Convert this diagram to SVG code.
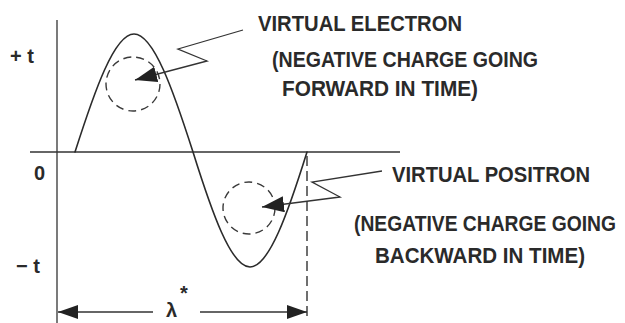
<svg xmlns="http://www.w3.org/2000/svg" width="625" height="323" viewBox="0 0 625 323">
<defs>
<style>
.ln{fill:none;stroke:#2b2b2b;stroke-width:1.6;stroke-linecap:round;stroke-linejoin:round}
.thin{fill:none;stroke:#333;stroke-width:1.3}
.dash{fill:none;stroke:#3a3a3a;stroke-width:1.4;stroke-dasharray:8 5}
.vdash{fill:none;stroke:#333;stroke-width:1.4;stroke-dasharray:10 5}
.lbl{font-family:"Liberation Sans",Arial,sans-serif;font-weight:bold;font-size:19px;fill:#2a2a2a}
.ax{font-family:"Liberation Sans",Arial,sans-serif;font-weight:bold;font-size:20px;fill:#2a2a2a}
</style>
<marker id="ah" markerUnits="userSpaceOnUse" markerWidth="24" markerHeight="18" refX="22" refY="8" orient="auto">
<path d="M0,0 L22,8 L0,16 Z" fill="#222"/>
</marker>
<marker id="dh" markerUnits="userSpaceOnUse" markerWidth="22" markerHeight="18" refX="20" refY="8" orient="auto">
<path d="M0,1 L20,8 L0,15 Z" fill="#222"/>
</marker>
</defs>
<rect width="625" height="323" fill="#fff"/>
<g id="axes">
<line class="thin" x1="57" y1="20" x2="57" y2="323"/>
<line class="thin" x1="30" y1="152" x2="400" y2="152"/>
<line class="vdash" x1="307" y1="156" x2="307" y2="320"/>
</g>
<g id="wave">
<path class="ln" d="M75,152 C94.67,90.7 114.33,34 134,34 C153.67,34 173.33,90.7 193,152 C212,212.7 231,267 250,267 C269,267 288,212.7 307,152"/>
</g>
<g id="electron">
<circle class="dash" cx="133" cy="84" r="27"/>
</g>
<g id="positron">
<circle class="dash" cx="249" cy="208" r="26"/>
</g>
<g id="connectors">
<path class="thin" d="M243,30 L178,49 L207,61 L135,80" marker-end="url(#ah)"/>
<path class="thin" d="M382,171 L312,182 L340,197 L262,207" marker-end="url(#ah)"/>
<line class="thin" x1="153" y1="312" x2="58" y2="312" marker-end="url(#dh)"/>
<line class="thin" x1="200" y1="312" x2="307" y2="312" marker-end="url(#dh)"/>
</g>
<g id="labels">
<text class="ax" x="10" y="63">+ t</text>
<text class="ax" x="34" y="180">0</text>
<text class="ax" x="16" y="273">− t</text>
<text class="ax" x="166" y="317" font-size="22">λ</text>
<text class="ax" x="180" y="300" font-size="20">*</text>
<text class="lbl" transform="translate(258,31) scale(1,1.2)" textLength="204" lengthAdjust="spacingAndGlyphs">VIRTUAL ELECTRON</text>
<text class="lbl" transform="translate(272,67) scale(1,1.2)" textLength="266" lengthAdjust="spacingAndGlyphs">(NEGATIVE CHARGE GOING</text>
<text class="lbl" transform="translate(282,96) scale(1,1.2)" textLength="196" lengthAdjust="spacingAndGlyphs">FORWARD IN TIME)</text>
<text class="lbl" transform="translate(392,182) scale(1,1.2)" textLength="198" lengthAdjust="spacingAndGlyphs">VIRTUAL POSITRON</text>
<text class="lbl" transform="translate(354,231) scale(1,1.2)" textLength="262" lengthAdjust="spacingAndGlyphs">(NEGATIVE CHARGE GOING</text>
<text class="lbl" transform="translate(375,263) scale(1,1.2)" textLength="210" lengthAdjust="spacingAndGlyphs">BACKWARD IN TIME)</text>
</g>
</svg>
